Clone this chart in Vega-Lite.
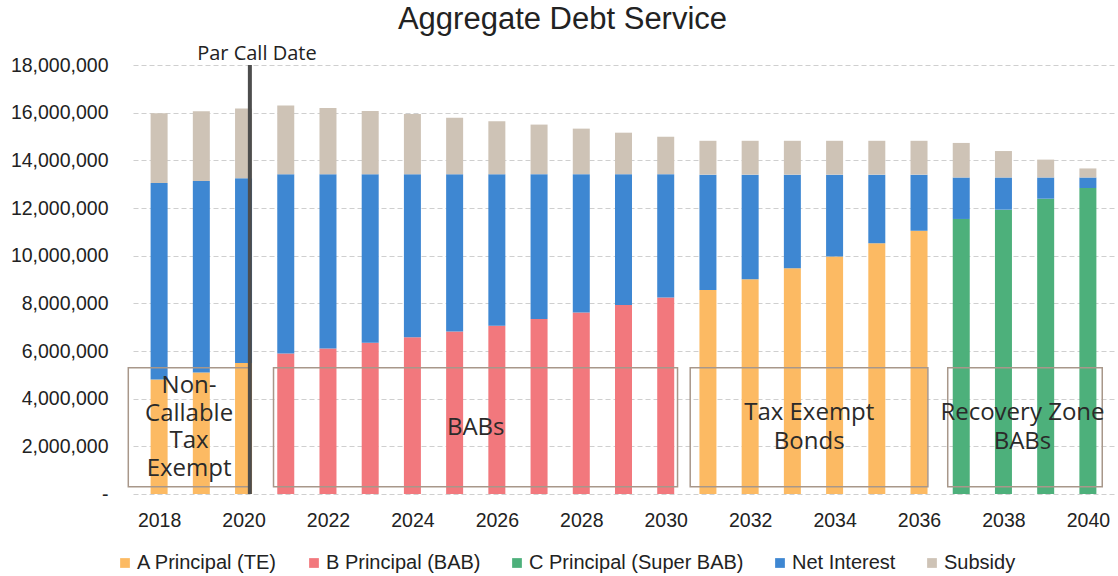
{
  "$schema": "https://vega.github.io/schema/vega-lite/v6.json",
  "width": 981,
  "height": 429,
  "autosize": {"type": "none"},
  "padding": {"left": 133, "top": 65, "right": 4, "bottom": 82},
  "background": "white",
  "title": {
    "text": "Aggregate Debt Service",
    "font": "Liberation Sans",
    "fontSize": 31,
    "fontWeight": "normal",
    "color": "#222222",
    "anchor": "middle",
    "dx": -61,
    "offset": 8
  },
  "config": {
    "view": {"stroke": null},
    "axis": {
      "labelFont": "Liberation Sans",
      "labelFontSize": 19.5,
      "labelColor": "#222222",
      "title": null,
      "ticks": false,
      "domain": false
    },
    "legend": {
      "orient": "none",
      "legendX": -18,
      "legendY": 488,
      "direction": "horizontal",
      "title": null,
      "symbolType": "square",
      "symbolSize": 95,
      "symbolStrokeWidth": 0,
      "labelFont": "Liberation Sans",
      "labelFontSize": 20,
      "labelColor": "#222222",
      "labelOffset": 2,
      "labelLimit": 0,
      "columnPadding": 26,
      "padding": 0
    }
  },
  "datasets": {
    "debt": [
      {"year": 2018, "series": "A Principal (TE)", "value": 4800000},
      {"year": 2018, "series": "Net Interest", "value": 8250000},
      {"year": 2018, "series": "Subsidy", "value": 2930000},
      {"year": 2019, "series": "A Principal (TE)", "value": 5100000},
      {"year": 2019, "series": "Net Interest", "value": 8030000},
      {"year": 2019, "series": "Subsidy", "value": 2930000},
      {"year": 2020, "series": "A Principal (TE)", "value": 5500000},
      {"year": 2020, "series": "Net Interest", "value": 7750000},
      {"year": 2020, "series": "Subsidy", "value": 2920000},
      {"year": 2021, "series": "B Principal (BAB)", "value": 5900000},
      {"year": 2021, "series": "Net Interest", "value": 7520000},
      {"year": 2021, "series": "Subsidy", "value": 2880000},
      {"year": 2022, "series": "B Principal (BAB)", "value": 6100000},
      {"year": 2022, "series": "Net Interest", "value": 7320000},
      {"year": 2022, "series": "Subsidy", "value": 2780000},
      {"year": 2023, "series": "B Principal (BAB)", "value": 6350000},
      {"year": 2023, "series": "Net Interest", "value": 7070000},
      {"year": 2023, "series": "Subsidy", "value": 2650000},
      {"year": 2024, "series": "B Principal (BAB)", "value": 6580000},
      {"year": 2024, "series": "Net Interest", "value": 6840000},
      {"year": 2024, "series": "Subsidy", "value": 2520000},
      {"year": 2025, "series": "B Principal (BAB)", "value": 6820000},
      {"year": 2025, "series": "Net Interest", "value": 6600000},
      {"year": 2025, "series": "Subsidy", "value": 2370000},
      {"year": 2026, "series": "B Principal (BAB)", "value": 7060000},
      {"year": 2026, "series": "Net Interest", "value": 6360000},
      {"year": 2026, "series": "Subsidy", "value": 2220000},
      {"year": 2027, "series": "B Principal (BAB)", "value": 7340000},
      {"year": 2027, "series": "Net Interest", "value": 6080000},
      {"year": 2027, "series": "Subsidy", "value": 2080000},
      {"year": 2028, "series": "B Principal (BAB)", "value": 7620000},
      {"year": 2028, "series": "Net Interest", "value": 5800000},
      {"year": 2028, "series": "Subsidy", "value": 1910000},
      {"year": 2029, "series": "B Principal (BAB)", "value": 7930000},
      {"year": 2029, "series": "Net Interest", "value": 5490000},
      {"year": 2029, "series": "Subsidy", "value": 1740000},
      {"year": 2030, "series": "B Principal (BAB)", "value": 8250000},
      {"year": 2030, "series": "Net Interest", "value": 5170000},
      {"year": 2030, "series": "Subsidy", "value": 1570000},
      {"year": 2031, "series": "A Principal (TE)", "value": 8560000},
      {"year": 2031, "series": "Net Interest", "value": 4840000},
      {"year": 2031, "series": "Subsidy", "value": 1420000},
      {"year": 2032, "series": "A Principal (TE)", "value": 9010000},
      {"year": 2032, "series": "Net Interest", "value": 4390000},
      {"year": 2032, "series": "Subsidy", "value": 1420000},
      {"year": 2033, "series": "A Principal (TE)", "value": 9470000},
      {"year": 2033, "series": "Net Interest", "value": 3930000},
      {"year": 2033, "series": "Subsidy", "value": 1420000},
      {"year": 2034, "series": "A Principal (TE)", "value": 9970000},
      {"year": 2034, "series": "Net Interest", "value": 3430000},
      {"year": 2034, "series": "Subsidy", "value": 1420000},
      {"year": 2035, "series": "A Principal (TE)", "value": 10520000},
      {"year": 2035, "series": "Net Interest", "value": 2880000},
      {"year": 2035, "series": "Subsidy", "value": 1420000},
      {"year": 2036, "series": "A Principal (TE)", "value": 11050000},
      {"year": 2036, "series": "Net Interest", "value": 2350000},
      {"year": 2036, "series": "Subsidy", "value": 1420000},
      {"year": 2037, "series": "C Principal (Super BAB)", "value": 11540000},
      {"year": 2037, "series": "Net Interest", "value": 1740000},
      {"year": 2037, "series": "Subsidy", "value": 1450000},
      {"year": 2038, "series": "C Principal (Super BAB)", "value": 11930000},
      {"year": 2038, "series": "Net Interest", "value": 1350000},
      {"year": 2038, "series": "Subsidy", "value": 1110000},
      {"year": 2039, "series": "C Principal (Super BAB)", "value": 12390000},
      {"year": 2039, "series": "Net Interest", "value": 890000},
      {"year": 2039, "series": "Subsidy", "value": 750000},
      {"year": 2040, "series": "C Principal (Super BAB)", "value": 12840000},
      {"year": 2040, "series": "Net Interest", "value": 440000},
      {"year": 2040, "series": "Subsidy", "value": 380000}
    ],
    "boxes": [
      {"x1": 2017.27, "x2": 2020.15, "y1": 300000, "y2": 5300000},
      {"x1": 2020.71, "x2": 2030.28, "y1": 300000, "y2": 5300000},
      {"x1": 2030.58, "x2": 2036.21, "y1": 300000, "y2": 5300000},
      {"x1": 2036.68, "x2": 2040.34, "y1": 300000, "y2": 5300000}
    ],
    "labels": [
      {"xc": 2018.71, "yc": 2790000, "lines": 4, "label": ["Non-", "Callable", "Tax", "Exempt"]},
      {"xc": 2025.5, "yc": 2790000, "lines": 1, "label": ["BABs"]},
      {"xc": 2033.4, "yc": 2790000, "lines": 2, "label": ["Tax Exempt", "Bonds"]},
      {"xc": 2038.45, "yc": 2790000, "lines": 2, "label": ["Recovery Zone", "BABs"]}
    ],
    "callDate": [
      {"year": 2020.15, "y0": 0, "y1": 18000000, "label": "Par Call Date"}
    ]
  },
  "layer": [
    {
      "data": {"name": "debt"},
      "mark": {"type": "bar", "width": 17},
      "encoding": {
        "x": {
          "field": "year",
          "type": "quantitative",
          "scale": {"domain": [2017.5, 2040.5], "nice": false, "zero": false},
          "axis": {
            "values": [2018, 2020, 2022, 2024, 2026, 2028, 2030, 2032, 2034, 2036, 2038, 2040],
            "format": "d",
            "grid": false,
            "labelPadding": 17
          }
        },
        "y": {
          "aggregate": "sum",
          "field": "value",
          "type": "quantitative",
          "stack": "zero",
          "scale": {"domain": [0, 18000000], "nice": false},
          "axis": {
            "values": [0, 2000000, 4000000, 6000000, 8000000, 10000000, 12000000, 14000000, 16000000, 18000000],
            "format": ",.0f",
            "labelExpr": "datum.value == 0 ? '-' : datum.label",
            "labelPadding": 25,
            "grid": true,
            "gridColor": "#cfcfcf",
            "gridDash": [5, 3],
            "gridWidth": 1
          }
        },
        "color": {
          "field": "series",
          "type": "nominal",
          "scale": {
            "domain": ["A Principal (TE)", "B Principal (BAB)", "C Principal (Super BAB)", "Net Interest", "Subsidy"],
            "range": ["#FCBA63", "#F2787D", "#4DB07B", "#3E87D2", "#CEC3B6"]
          }
        },
        "order": {"field": "series", "type": "nominal", "sort": "ascending"}
      }
    },
    {
      "data": {"name": "boxes"},
      "mark": {"type": "rect", "fill": "white", "fillOpacity": 0, "stroke": "#a8978a", "strokeWidth": 1.5},
      "encoding": {
        "x": {"field": "x1", "type": "quantitative"},
        "x2": {"field": "x2"},
        "y": {"field": "y1", "type": "quantitative"},
        "y2": {"field": "y2"}
      }
    },
    {
      "data": {"name": "callDate"},
      "mark": {"type": "rule", "color": "#4d4d4d", "strokeWidth": 4},
      "encoding": {
        "x": {"field": "year", "type": "quantitative"},
        "y": {"field": "y0", "type": "quantitative"},
        "y2": {"field": "y1"}
      }
    },
    {
      "data": {"name": "callDate"},
      "mark": {"type": "text", "font": "Open Sans", "fontSize": 20, "color": "#222222", "baseline": "alphabetic", "align": "center", "dx": 7, "dy": -5},
      "encoding": {
        "x": {"field": "year", "type": "quantitative"},
        "y": {"field": "y1", "type": "quantitative"},
        "text": {"field": "label"}
      }
    },
    {
      "data": {"name": "labels"},
      "transform": [{"filter": "datum.lines == 1"}],
      "mark": {"type": "text", "font": "Open Sans", "fontSize": 24, "color": "#2a2a2a", "baseline": "middle", "align": "center", "lineHeight": 28.5},
      "encoding": {
        "x": {"field": "xc", "type": "quantitative"},
        "y": {"field": "yc", "type": "quantitative"},
        "text": {"field": "label"}
      }
    },
    {
      "data": {"name": "labels"},
      "transform": [{"filter": "datum.lines == 2"}],
      "mark": {"type": "text", "font": "Open Sans", "fontSize": 24, "color": "#2a2a2a", "baseline": "middle", "align": "center", "lineHeight": 29.5, "dy": -15},
      "encoding": {
        "x": {"field": "xc", "type": "quantitative"},
        "y": {"field": "yc", "type": "quantitative"},
        "text": {"field": "label"}
      }
    },
    {
      "data": {"name": "labels"},
      "transform": [{"filter": "datum.lines == 4"}],
      "mark": {"type": "text", "font": "Open Sans", "fontSize": 24, "color": "#2a2a2a", "baseline": "middle", "align": "center", "lineHeight": 27.8, "dy": -41.7},
      "encoding": {
        "x": {"field": "xc", "type": "quantitative"},
        "y": {"field": "yc", "type": "quantitative"},
        "text": {"field": "label"}
      }
    }
  ]
}
